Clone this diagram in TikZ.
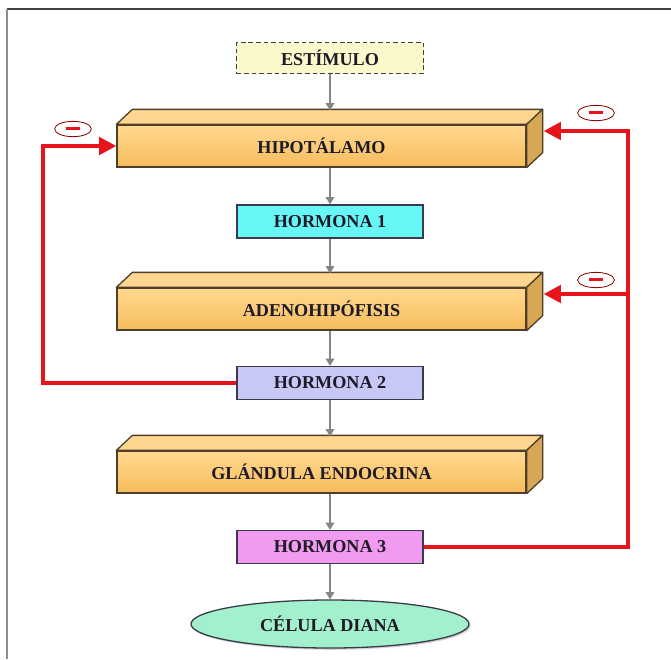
\documentclass[tikz,border=0pt]{standalone}
\usepackage{fontspec}
\setmainfont{Liberation Serif}
\usetikzlibrary{arrows.meta,calc,shapes.geometric,shadows}
\definecolor{barraClaro}{HTML}{FFD990}
\definecolor{barraOscuro}{HTML}{F6BC5C}
\definecolor{barraTapa}{HTML}{FDD690}
\definecolor{barraLado}{HTML}{D6A855}
\definecolor{bordeBarra}{HTML}{4F3E2A}
\definecolor{bordeCaja}{HTML}{3A3A4E}
\definecolor{estimFondo}{HTML}{FBF9CC}
\definecolor{hUno}{HTML}{66F6F6}
\definecolor{hDos}{HTML}{C8C8F6}
\definecolor{hTres}{HTML}{F09AF0}
\definecolor{dianaFondo}{HTML}{A2F0CC}
\definecolor{rojo}{HTML}{E8141C}
\definecolor{grisFlecha}{HTML}{858585}
\definecolor{texto}{HTML}{1E1A28}
\tikzset{
  rotulo/.style={font=\bfseries\fontsize{15.5}{18}\selectfont, text=texto},
  barra/.style={rotulo, draw=bordeBarra, line width=1.1pt, top color=barraClaro, bottom color=barraOscuro, minimum width=12.27cm, minimum height=1.26cm},
  hormona/.style={rotulo, draw=bordeCaja, line width=1.1pt, minimum width=5.58cm, minimum height=0.99cm},
  estimbox/.style={rotulo, draw=black!75, dash pattern=on 4pt off 2.5pt, line width=1.5pt, fill=estimFondo, minimum width=5.61cm, minimum height=0.93cm},
  diana/.style={rotulo, ellipse, draw=bordeCaja, line width=1.1pt, fill=dianaFondo, minimum width=8.34cm, minimum height=1.44cm, drop shadow={shadow xshift=1.5pt, shadow yshift=-1.5pt, fill=black!35}},
  flecha/.style={draw=grisFlecha, line width=1.3pt, -{Triangle[length=0.22cm,width=0.26cm]}},
  retro/.style={draw=rojo, line width=3.4pt, -{Triangle[length=0.52cm,width=0.52cm]}},
  menos/.style={ellipse, draw=red!55!black, line width=0.7pt, minimum width=1.1cm, minimum height=0.46cm, inner sep=0pt}
}
\begin{document}
\begin{tikzpicture}[x=0.03cm,y=-0.03cm]
        \path[use as bounding box, fill=white] (0,0) rectangle (671,659);
        % marco
        \draw[line width=1.6pt, black!75] (7,9) -- (671,9);
        \draw[line width=1.6pt, black!45] (7,9) -- (7,659);

        \node[estimbox] (estim) at (330,58) {ESTÍMULO};
        \node[barra] (hipo) at (321.5,146) {HIPOTÁLAMO};
        \node[hormona, fill=hUno] (h1) at (330,221.5) {HORMONA 1};
        \node[barra] (adeno) at (321.5,309) {ADENOHIPÓFISIS};
        \node[hormona, fill=hDos] (h2) at (330,383) {HORMONA 2};
        \node[barra] (gland) at (321.5,472) {GLÁNDULA ENDOCRINA};
        \node[hormona, fill=hTres] (h3) at (330,547) {HORMONA 3};
        \node[diana] (cel) at (330,624) {CÉLULA DIANA};

        % caras de las barras
        \foreach \b in {hipo,adeno,gland} {
            \draw[bordeBarra, line width=1.1pt, fill=barraTapa, line join=round]
                (\b.north west) -- ++(16,-15) -- ($(\b.north east)+(16,-15)$) -- (\b.north east) -- cycle;
            \draw[bordeBarra, line width=1.1pt, fill=barraLado, line join=round]
                (\b.north east) -- ++(16,-15) -- ($(\b.south east)+(16,-15)$) -- (\b.south east) -- cycle;
        }

        % flechas grises
        \foreach \a/\b in {estim/hipo,h1/adeno,h2/gland}
            \draw[flecha] (\a.south) -- ($(\a.south |- \b.north)+(0,-14)$);
        \foreach \a/\b in {hipo/h1,adeno/h2,gland/h3}
            \draw[flecha] (\b.north |- \a.south) -- (\b.north);
        \draw[flecha] (h3.south) -- (cel.north);

        % retroalimentacion
        \coordinate (izq) at (43,383);
        \coordinate (hipolado) at ($(hipo.east)+(17,-15)$);
        \coordinate (adenolado) at ($(adeno.east)+(17,-15)$);
        \coordinate (der) at (628,0 |- hipolado);
        \draw[retro] (h2.west) -- (izq) |- (hipo.west);
        \draw[retro] (h3.east) -| (der) -- (hipolado);
        \draw[retro] (der |- adenolado) -- (adenolado);

        \node[menos] (m1) at (73,129) {\textcolor{rojo}{\rule[0.3ex]{0.42cm}{0.09cm}}};
        \node[menos] (m2) at (596,113) {\textcolor{rojo}{\rule[0.3ex]{0.42cm}{0.09cm}}};
        \node[menos] (m3) at (596,280) {\textcolor{rojo}{\rule[0.3ex]{0.42cm}{0.09cm}}};
    \end{tikzpicture}
\end{document}
